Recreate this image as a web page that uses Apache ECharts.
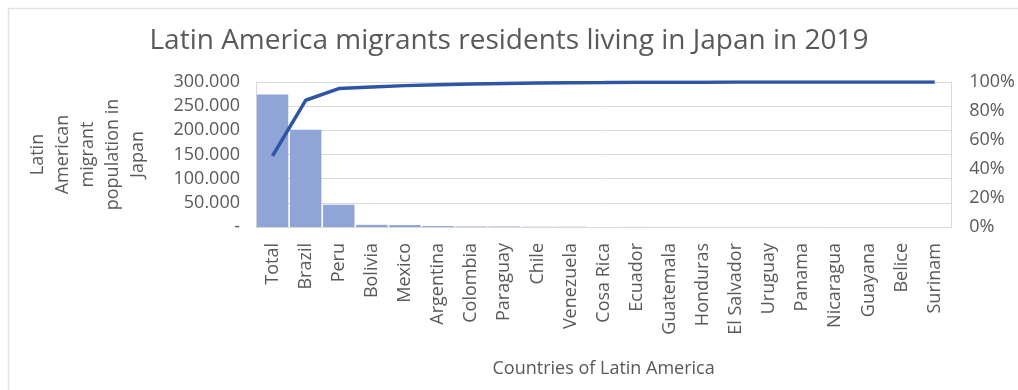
<!DOCTYPE html>
<html>
<head>
<meta charset="utf-8">
<script src="https://cdn.jsdelivr.net/npm/echarts@6/dist/echarts.min.js"></script>
<style>
  html, body { margin: 0; padding: 0; background: #fff; }
  #chart { width: 1018px; height: 390px; }
</style>
</head>
<body>
<div id="chart"></div>
<script>
// Latin American residents in Japan, 2019 (Pareto: counts + cumulative share)
const countries = ['Total', 'Brazil', 'Peru', 'Bolivia', 'Mexico', 'Argentina', 'Colombia',
  'Paraguay', 'Chile', 'Venezuela', 'Cosa Rica', 'Ecuador', 'Guatemala', 'Honduras',
  'El Salvador', 'Uruguay', 'Panama', 'Nicaragua', 'Guayana', 'Belice', 'Surinam'];
const residents = [274000, 201000, 46000, 4500, 4000, 2000, 1000, 800, 400, 300, 200,
  200, 150, 120, 120, 100, 80, 60, 30, 20, 10];
const cumulativePct = [49, 87.4, 95.5, 96.6, 97.5, 98.1, 98.6, 99.0, 99.3, 99.5, 99.6,
  99.8, 99.85, 99.9, 99.92, 99.95, 99.97, 99.98, 99.99, 100, 100];
const leftTicks = { min: 0, max: 300000, interval: 50000 };
const rightTicks = { min: 0, max: 100, interval: 20 };

const textColor = '#595959';
const font = 'Open Sans';
const gridGray = '#d9d9d9';

function thousands(v) {
  if (v === 0) return '-';
  return String(v).replace(/\B(?=(\d{3})+(?!\d))/g, '.');
}

const chart = echarts.init(document.getElementById('chart'), null, { renderer: 'canvas' });
chart.setOption({
  animation: false,
  backgroundColor: '#fff',
  textStyle: { fontFamily: font, color: textColor },
  graphic: [{
    type: 'rect',
    shape: { x: 8.5, y: 8.5, width: 1100, height: 500 },
    style: { fill: 'none', stroke: '#e2e2e2', lineWidth: 1.5 },
    silent: true
  }],
  title: {
    text: 'Latin America migrants residents living in Japan in 2019',
    left: 'center',
    top: 22,
    textStyle: { fontFamily: font, fontSize: 28, fontWeight: 'normal', color: textColor }
  },
  grid: { left: 256, right: 66, top: 82, bottom: 163 },
  xAxis: {
    type: 'category',
    data: countries,
    name: 'Countries of Latin America',
    nameLocation: 'middle',
    nameGap: 133,
    nameTextStyle: { fontFamily: font, fontSize: 18, color: textColor },
    axisLine: { lineStyle: { color: gridGray, width: 1 } },
    axisTick: { show: false },
    axisLabel: { rotate: 90, margin: 16, fontFamily: font, fontSize: 18, color: textColor, interval: 0 }
  },
  yAxis: [{
    type: 'value',
    min: leftTicks.min, max: leftTicks.max, interval: leftTicks.interval,
    name: 'Latin\nAmerican\nmigrant\npopulation in\nJapan',
    nameLocation: 'middle',
    nameRotate: 90,
    nameGap: 106,
    nameTextStyle: { fontFamily: font, fontSize: 18, color: textColor, lineHeight: 25, align: 'center' },
    axisLine: { show: true, lineStyle: { color: gridGray } },
    axisTick: { show: false },
    splitLine: { lineStyle: { color: gridGray, width: 1 } },
    axisLabel: { margin: 16, fontFamily: font, fontSize: 18, color: textColor, formatter: thousands }
  }, {
    type: 'value',
    min: rightTicks.min, max: rightTicks.max, interval: rightTicks.interval,
    position: 'right',
    axisLine: { show: true, lineStyle: { color: gridGray } },
    axisTick: { show: false },
    splitLine: { show: false },
    axisLabel: { margin: 18, fontFamily: font, fontSize: 18, color: textColor, formatter: '{value}%' }
  }],
  series: [{
    type: 'bar',
    data: residents,
    barCategoryGap: '5%',
    itemStyle: { color: '#8fa4d7' }
  }, {
    type: 'line',
    yAxisIndex: 1,
    data: cumulativePct,
    symbol: 'none',
    lineStyle: { color: '#2f55a5', width: 3.5 }
  }]
});
</script>
</body>
</html>
